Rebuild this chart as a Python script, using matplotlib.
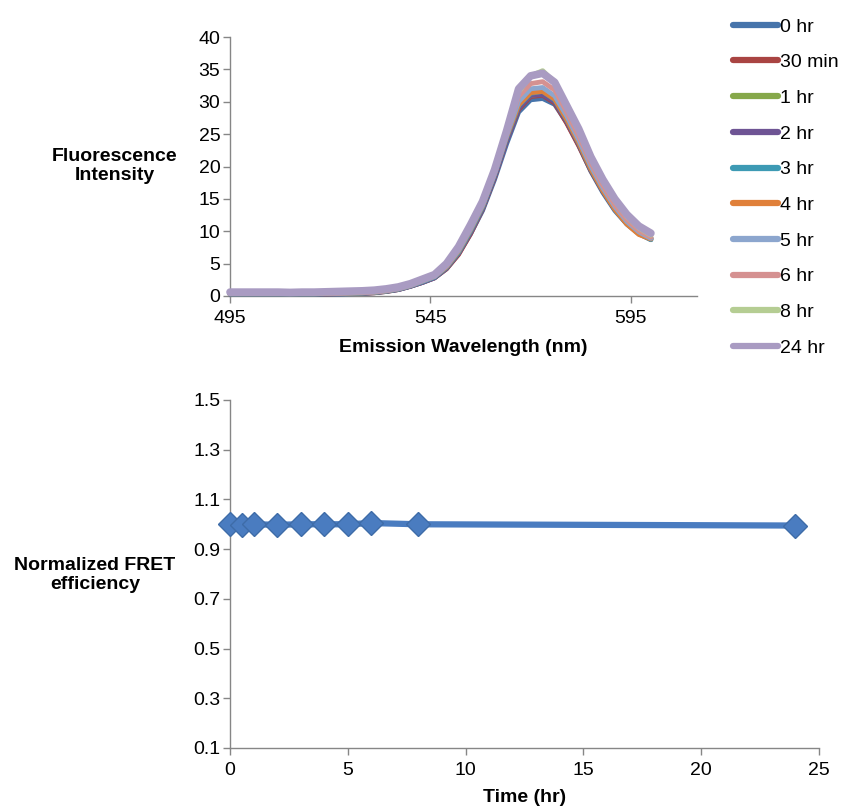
import matplotlib
matplotlib.use('Agg')
import matplotlib.pyplot as plt

plt.rcParams['font.family'] = ['Liberation Sans', 'DejaVu Sans']

# emission spectra (every 3 nm)
wavelength = [495, 498, 501, 504, 507, 510, 513, 516, 519, 522, 525, 528,
              531, 534, 537, 540, 543, 546, 549, 552, 555, 558, 561, 564,
              567, 570, 573, 576, 579, 582, 585, 588, 591, 594, 597, 600]

labels = ['0 hr', '30 min', '1 hr', '2 hr', '3 hr', '4 hr', '5 hr', '6 hr', '8 hr', '24 hr']
colors = ['#4674AB', '#A94442', '#86A84A', '#6E5494', '#3D9AB4',
          '#E0803A', '#8CA6CE', '#D59191', '#B5CD93', '#A99BC2']

spec_0h = [0.3, 0.3, 0.3, 0.3, 0.3, 0.3, 0.3, 0.3, 0.3, 0.3, 0.35, 0.4,
           0.5, 0.7, 1.0, 1.5, 2.1, 2.8, 4.2, 6.5, 9.6, 13.2, 18.0, 23.5,
           28.4, 30.3, 30.5, 29.6, 26.8, 23.3, 19.3, 16.0, 13.2, 11.1, 9.6, 8.7]
spec_30m = [0.3, 0.3, 0.3, 0.3, 0.3, 0.3, 0.3, 0.3, 0.3, 0.35, 0.4, 0.4,
            0.5, 0.7, 1.0, 1.5, 2.1, 2.8, 4.2, 6.4, 9.6, 13.4, 18.3, 24.0,
            28.8, 30.8, 31.0, 29.8, 26.7, 23.2, 19.4, 16.2, 13.4, 11.2, 9.7, 8.9]
spec_1h = [0.35, 0.35, 0.35, 0.35, 0.35, 0.35, 0.35, 0.35, 0.4, 0.4, 0.45, 0.5,
           0.6, 0.8, 1.1, 1.6, 2.2, 2.9, 4.4, 6.8, 10.0, 13.7, 18.6, 24.3,
           29.2, 31.0, 31.2, 30.2, 27.3, 23.8, 19.9, 16.6, 13.7, 11.5, 9.9, 9.0]
spec_2h = [0.3, 0.3, 0.3, 0.3, 0.3, 0.3, 0.3, 0.3, 0.35, 0.35, 0.4, 0.45,
           0.55, 0.75, 1.0, 1.5, 2.1, 2.8, 4.3, 6.6, 9.8, 13.5, 18.4, 24.0,
           29.0, 31.0, 31.1, 30.0, 27.0, 23.5, 19.6, 16.3, 13.5, 11.3, 9.8, 8.9]
spec_3h = [0.3, 0.3, 0.3, 0.3, 0.3, 0.3, 0.3, 0.3, 0.35, 0.35, 0.4, 0.45,
           0.55, 0.75, 1.05, 1.55, 2.2, 2.9, 4.4, 6.7, 10.0, 13.7, 18.7, 24.4,
           29.4, 31.3, 31.6, 30.3, 27.2, 23.6, 19.6, 16.3, 13.4, 11.2, 9.7, 8.7]
spec_4h = [0.35, 0.35, 0.35, 0.35, 0.35, 0.35, 0.35, 0.35, 0.4, 0.4, 0.45, 0.5,
           0.6, 0.8, 1.1, 1.6, 2.3, 3.0, 4.5, 6.9, 10.2, 13.9, 18.9, 24.6,
           29.5, 31.4, 31.6, 30.4, 27.3, 23.7, 19.7, 16.3, 13.4, 11.1, 9.5, 8.8]
spec_5h = [0.35, 0.35, 0.35, 0.35, 0.35, 0.35, 0.35, 0.35, 0.4, 0.4, 0.45, 0.5,
           0.6, 0.8, 1.1, 1.6, 2.3, 3.0, 4.6, 7.0, 10.3, 14.0, 19.0, 24.8,
           30.0, 32.0, 32.2, 30.9, 27.8, 24.1, 20.1, 16.7, 13.8, 11.5, 9.9, 8.9]
spec_6h = [0.4, 0.4, 0.4, 0.4, 0.4, 0.4, 0.4, 0.4, 0.45, 0.45, 0.5, 0.55,
           0.65, 0.85, 1.2, 1.7, 2.4, 3.1, 4.7, 7.2, 10.6, 14.3, 19.4, 25.3,
           30.8, 32.8, 33.1, 31.8, 28.4, 24.7, 20.6, 17.1, 14.1, 11.8, 10.1, 9.1]
spec_8h = [0.45, 0.45, 0.45, 0.45, 0.45, 0.45, 0.45, 0.45, 0.5, 0.55, 0.6, 0.65,
           0.75, 0.95, 1.3, 1.8, 2.5, 3.2, 4.9, 7.4, 10.8, 14.6, 19.5, 25.6,
           31.5, 34.0, 34.8, 33.0, 29.2, 25.4, 21.2, 17.7, 14.7, 12.3, 10.5, 9.4]
spec_24h = [0.6, 0.6, 0.6, 0.6, 0.6, 0.55, 0.6, 0.6, 0.65, 0.7, 0.75, 0.8,
            0.9, 1.1, 1.4, 1.9, 2.6, 3.3, 5.0, 7.6, 11.0, 14.6, 19.5, 25.5,
            32.0, 34.0, 34.4, 33.0, 29.4, 25.8, 21.5, 18.0, 15.0, 12.6, 10.8, 9.7]

spectra = [spec_0h, spec_30m, spec_1h, spec_2h, spec_3h,
           spec_4h, spec_5h, spec_6h, spec_8h, spec_24h]

# normalized FRET efficiency over time
time_hr = [0, 0.5, 1, 2, 3, 4, 5, 6, 8, 24]
fret = [1.0, 0.998, 1.0, 0.998, 1.0, 1.0, 1.0, 1.005, 1.0, 0.995]

axis_gray = '#868686'
fs = 14

fig = plt.figure(figsize=(8.41, 8.07), dpi=100)

# top panel: spectra
ax1 = fig.add_axes([230 / 841, (807 - 296) / 807, 467 / 841, 259 / 807])
for i in range(len(spectra)):
    lw = 5.5 if labels[i] == '24 hr' else 3.5
    ax1.plot(wavelength, spectra[i], color=colors[i], lw=lw, label=labels[i],
             solid_capstyle='round', solid_joinstyle='round', clip_on=False)
ax1.set_xlim(495, 611.5)
ax1.set_ylim(0, 40)
ax1.set_xticks([495, 545, 595])
ax1.set_yticks(range(0, 41, 5))
ax1.set_xlabel('Emission Wavelength (nm)', fontsize=fs, fontweight='bold', labelpad=9)

leg = ax1.legend(loc='upper left', bbox_to_anchor=(733 / 841, 1 - 18 / 807),
                 bbox_transform=fig.transFigure, frameon=False, fontsize=fs,
                 handlelength=2.3, handletextpad=0.1, labelspacing=0.93,
                 borderpad=0, borderaxespad=0)
for h in leg.get_lines():
    h.set_linewidth(4.5)
    h.set_solid_capstyle('round')

fig.text(115 / 841, 1 - 166 / 807, 'Fluorescence\nIntensity', ha='center', va='center',
         fontsize=fs, fontweight='bold', linespacing=1.2)

# bottom panel: FRET efficiency
ax2 = fig.add_axes([230 / 841, (807 - 748) / 807, 589 / 841, 348 / 807])
ax2.plot(time_hr, fret, color='#4A7CC0', lw=4.5, marker='D', markersize=12,
         markerfacecolor='#4A7CC0', markeredgecolor='#3E6CA8', markeredgewidth=1,
         clip_on=False)
ax2.set_xlim(0, 25)
ax2.set_ylim(0.1, 1.5)
ax2.set_xticks(range(0, 26, 5))
ax2.set_yticks([0.1, 0.3, 0.5, 0.7, 0.9, 1.1, 1.3, 1.5])
ax2.set_yticklabels(['0.1', '0.3', '0.5', '0.7', '0.9', '1.1', '1.3', '1.5'])
ax2.set_xlabel('Time (hr)', fontsize=fs, fontweight='bold', labelpad=7)

fig.text(95 / 841, 1 - 575 / 807, 'Normalized FRET\nefficiency', ha='center', va='center',
         fontsize=fs, fontweight='bold', linespacing=1.2)

for ax in (ax1, ax2):
    ax.spines['top'].set_visible(False)
    ax.spines['right'].set_visible(False)
    for s in ('left', 'bottom'):
        ax.spines[s].set_color(axis_gray)
        ax.spines[s].set_linewidth(1)
    ax.tick_params(axis='both', direction='out', length=5, width=1, color=axis_gray,
                   labelsize=fs, pad=2)
    ax.tick_params(axis='x', pad=5)
    for sp in ax.spines.values():
        sp.set_zorder(0)

fig.savefig('out.png', dpi=100)
